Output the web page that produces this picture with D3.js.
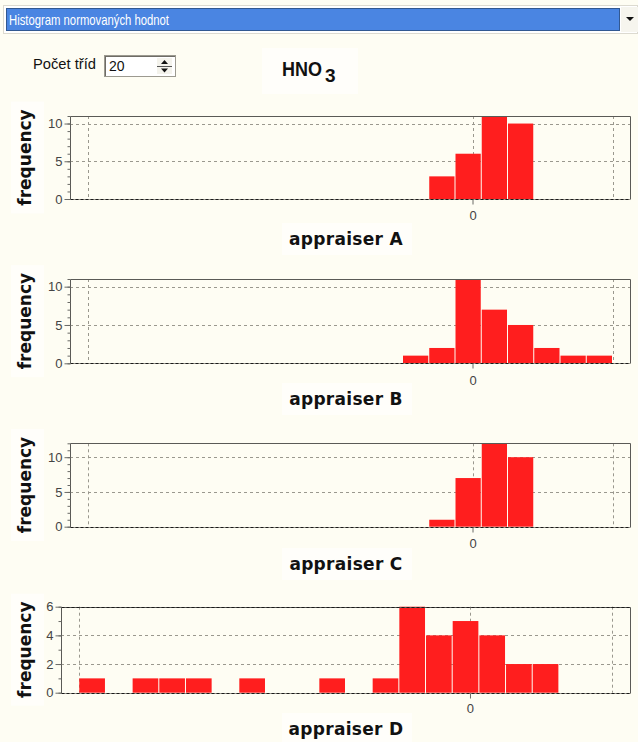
<!DOCTYPE html>
<html>
<head>
<meta charset="utf-8">
<script src="https://cdn.jsdelivr.net/npm/d3@7"></script>
<style>
  html, body { margin: 0; padding: 0; background: #fefdf3; }
  svg { display: block; }
</style>
</head>
<body>
<svg id="chart" width="638" height="742"></svg>
<script>
// Histogram of normalised values, 20 classes shared by all appraisers
const binEdges = [-11, -10.25, -9.5, -8.75, -8, -7.25, -6.5, -5.75, -5, -4.25, -3.5,
                  -2.75, -2, -1.25, -0.5, 0.25, 1, 1.75, 2.5, 3.25, 4];
const appraisers = ["appraiser A", "appraiser B", "appraiser C", "appraiser D"];
const countsA = [0, 0, 0, 0, 0, 0, 0, 0, 0, 0, 0, 0, 0, 3, 6, 11, 10, 0, 0, 0];
const countsB = [0, 0, 0, 0, 0, 0, 0, 0, 0, 0, 0, 0, 1, 2, 11, 7, 5, 2, 1, 1];
const countsC = [0, 0, 0, 0, 0, 0, 0, 0, 0, 0, 0, 0, 0, 1, 7, 12, 10, 0, 0, 0];
const countsD = [1, 0, 1, 1, 1, 0, 1, 0, 0, 1, 0, 1, 6, 4, 5, 4, 2, 2, 0, 0];
const xTickValues = [0];
const xGridValues = [-11, 0, 4];
const xDomain = [-11.5, 4.5];
const yTicksWide = [0, 5, 10];
const yTicksNarrow = [0, 2, 4, 6];
const comboText = "Histogram normovaných hodnot";
const classLabel = "Počet tříd";
const classCount = "20";

const svg = d3.select("#chart");
const uiFont = "'Liberation Sans', Arial, sans-serif";
const labelFont = "'DejaVu Sans', Verdana, sans-serif";

// ---------- combo box ----------
svg.append("rect").attr("x", 3.5).attr("y", 5.5).attr("width", 634).attr("height", 28)
  .attr("fill", "#ffffff").attr("stroke", "#dcdad0");
svg.append("rect").attr("x", 6).attr("y", 8).attr("width", 614).attr("height", 23)
  .attr("fill", "#4a85e2");
svg.append("rect").attr("x", 6.5).attr("y", 8.5).attr("width", 613).attr("height", 22)
  .attr("fill", "none").attr("stroke", "#1a2a40").attr("stroke-dasharray", "1,1");
svg.append("text").attr("x", 9).attr("y", 25)
  .attr("font-family", uiFont).attr("font-size", 15).attr("fill", "#ffffff")
  .attr("textLength", 160).attr("lengthAdjust", "spacingAndGlyphs")
  .text(comboText);
svg.append("rect").attr("x", 621).attr("y", 7).attr("width", 17).attr("height", 25)
  .attr("fill", "#f6f5ee");
svg.append("path").attr("d", "M626,17 L634,17 L630,21 Z").attr("fill", "#111");

// ---------- class-count spinner ----------
svg.append("text").attr("x", 33).attr("y", 69)
  .attr("font-family", uiFont).attr("font-size", 14).attr("fill", "#111")
  .attr("textLength", 63).attr("lengthAdjust", "spacingAndGlyphs")
  .text(classLabel);
svg.append("rect").attr("x", 104.5).attr("y", 55.5).attr("width", 71).attr("height", 21)
  .attr("fill", "#ffffff").attr("stroke", "#9c9a90");
svg.append("line").attr("x1", 105).attr("x2", 175).attr("y1", 56.5).attr("y2", 56.5)
  .attr("stroke", "#6e6c66");
svg.append("line").attr("x1", 105.5).attr("x2", 105.5).attr("y1", 56).attr("y2", 76)
  .attr("stroke", "#6e6c66");
svg.append("text").attr("x", 109).attr("y", 71)
  .attr("font-family", uiFont).attr("font-size", 14).attr("fill", "#111")
  .text(classCount);
svg.append("rect").attr("x", 157).attr("y", 58).attr("width", 15).attr("height", 16)
  .attr("fill", "#f4f3ec");
svg.append("line").attr("x1", 157).attr("x2", 172).attr("y1", 66.5).attr("y2", 66.5)
  .attr("stroke", "#555");
svg.append("path").attr("d", "M161,64 L168,64 L164.5,60 Z").attr("fill", "#111");
svg.append("path").attr("d", "M161,68.5 L168,68.5 L164.5,72.5 Z").attr("fill", "#111");

// ---------- title ----------
svg.append("rect").attr("x", 262).attr("y", 48).attr("width", 96).attr("height", 46)
  .attr("fill", "#ffffff").attr("opacity", 0.6);
const title = svg.append("text").attr("x", 282).attr("y", 76)
  .attr("font-family", uiFont).attr("font-size", 20).attr("font-weight", "bold")
  .attr("fill", "#111");
title.append("tspan").attr("textLength", 40).attr("lengthAdjust", "spacingAndGlyphs").text("HNO");
title.append("tspan").attr("x", 325).attr("dy", 6).attr("font-size", 19).text("3");

// ---------- histogram panels ----------
const panels = [
  { label: appraisers[0], counts: countsA, ticks: yTicksWide, left: 70, top: 116, bottom: 199, zeroY: 215, titleY: 239 },
  { label: appraisers[1], counts: countsB, ticks: yTicksWide, left: 70, top: 279, bottom: 363.3, zeroY: 380, titleY: 399 },
  { label: appraisers[2], counts: countsC, ticks: yTicksWide, left: 70, top: 443.3, bottom: 526.7, zeroY: 543, titleY: 564 },
  { label: appraisers[3], counts: countsD, ticks: yTicksNarrow, left: 61, top: 606.7, bottom: 692.7, zeroY: 708, titleY: 729 }
];
const plotRight = 630;

panels.forEach(p => {
  const g = svg.append("g");
  const bins = p.counts.map((c, i) => ({ x0: binEdges[i], x1: binEdges[i + 1], n: c }));
  const yMax = d3.max(p.counts);

  const x = d3.scaleLinear().domain(xDomain).range([p.left, plotRight]);
  const y = d3.scaleLinear().domain([0, yMax]).range([p.bottom, p.top]);

  // label backdrops
  const midY = (p.top + p.bottom) / 2;
  g.append("rect").attr("x", 11).attr("y", midY - 56).attr("width", 33).attr("height", 112)
    .attr("fill", "#ffffff").attr("opacity", 0.6);
  g.append("rect").attr("x", 282).attr("y", p.titleY - 16).attr("width", 130).attr("height", 32)
    .attr("fill", "#ffffff").attr("opacity", 0.6);

  // grid
  g.append("g").selectAll("line").data(p.ticks.filter(t => t > 0)).join("line")
    .attr("x1", p.left).attr("x2", plotRight)
    .attr("y1", d => Math.round(y(d)) + 0.5).attr("y2", d => Math.round(y(d)) + 0.5)
    .attr("stroke", "#9a988e").attr("stroke-dasharray", "3,3");
  g.append("g").selectAll("line").data(xGridValues).join("line")
    .attr("x1", d => Math.round(x(d)) + 0.5).attr("x2", d => Math.round(x(d)) + 0.5)
    .attr("y1", p.top).attr("y2", p.bottom)
    .attr("stroke", "#9a988e").attr("stroke-dasharray", "3,3");

  // bars
  g.append("g").selectAll("rect").data(bins.filter(b => b.n > 0)).join("rect")
    .attr("x", d => x(d.x0) + 0.5)
    .attr("width", d => x(d.x1) - x(d.x0) - 1)
    .attr("y", d => y(d.n))
    .attr("height", d => y(0) - y(d.n))
    .attr("fill", "#ff1e1e");

  // frame
  const L = Math.round(p.left) + 0.5, T = Math.round(p.top) + 0.5, B = Math.round(p.bottom) + 0.5;
  g.append("path")
    .attr("d", `M${L},${B} L${L},${T} L${plotRight + 0.5},${T} L${plotRight + 0.5},${B}`)
    .attr("fill", "none").attr("stroke", "#5a5a56");
  g.append("line").attr("x1", L).attr("x2", plotRight + 0.5).attr("y1", B).attr("y2", B)
    .attr("stroke", "#9a988e");
  g.append("line").attr("x1", L).attr("x2", plotRight + 0.5).attr("y1", B).attr("y2", B)
    .attr("stroke", "#1a1a1a").attr("stroke-dasharray", "3,2");
  if (p.ticks[p.ticks.length - 1] === yMax) {
    g.append("line").attr("x1", L).attr("x2", plotRight + 0.5).attr("y1", T).attr("y2", T)
      .attr("stroke", "#1a1a1a").attr("stroke-dasharray", "3,2");
  }

  // y axis: major ticks with labels, minor ticks every unit
  const yAxis = g.append("g").attr("transform", `translate(${L},0)`)
    .call(d3.axisLeft(y).tickValues(p.ticks).tickSize(6).tickPadding(2).tickFormat(d3.format("d")));
  yAxis.select(".domain").remove();
  yAxis.selectAll("line").attr("stroke", "#6a6a66");
  yAxis.selectAll("text").attr("font-family", uiFont).attr("font-size", 13).attr("fill", "#444");
  const minor = g.append("g").attr("transform", `translate(${L},0)`)
    .call(d3.axisLeft(y).tickValues(d3.range(0, yMax + 1)).tickSize(3).tickFormat(""));
  minor.select(".domain").remove();
  minor.selectAll("line").attr("stroke", "#6a6a66");

  // x axis: only the zero tick is labelled
  const xAxis = g.append("g").attr("transform", `translate(0,${B})`)
    .call(d3.axisBottom(x).tickValues(xTickValues).tickSize(5).tickPadding(0).tickFormat(d3.format("d")));
  xAxis.select(".domain").remove();
  xAxis.selectAll("line").attr("stroke", "#6a6a66");
  xAxis.selectAll("text").attr("font-family", uiFont).attr("font-size", 13).attr("fill", "#444")
    .attr("dy", null).attr("y", p.zeroY - B).attr("dominant-baseline", "central");

  // axis titles
  g.append("text")
    .attr("transform", `translate(25,${midY}) rotate(-90)`)
    .attr("text-anchor", "middle").attr("dominant-baseline", "central")
    .attr("font-family", labelFont).attr("font-weight", "bold").attr("font-size", 17)
    .attr("fill", "#111")
    .text("frequency");
  g.append("text")
    .attr("x", 346).attr("y", p.titleY)
    .attr("text-anchor", "middle").attr("dominant-baseline", "central")
    .attr("font-family", labelFont).attr("font-weight", "bold").attr("font-size", 17)
    .attr("letter-spacing", 0.3)
    .attr("fill", "#111")
    .text(p.label);
});
</script>
</body>
</html>
